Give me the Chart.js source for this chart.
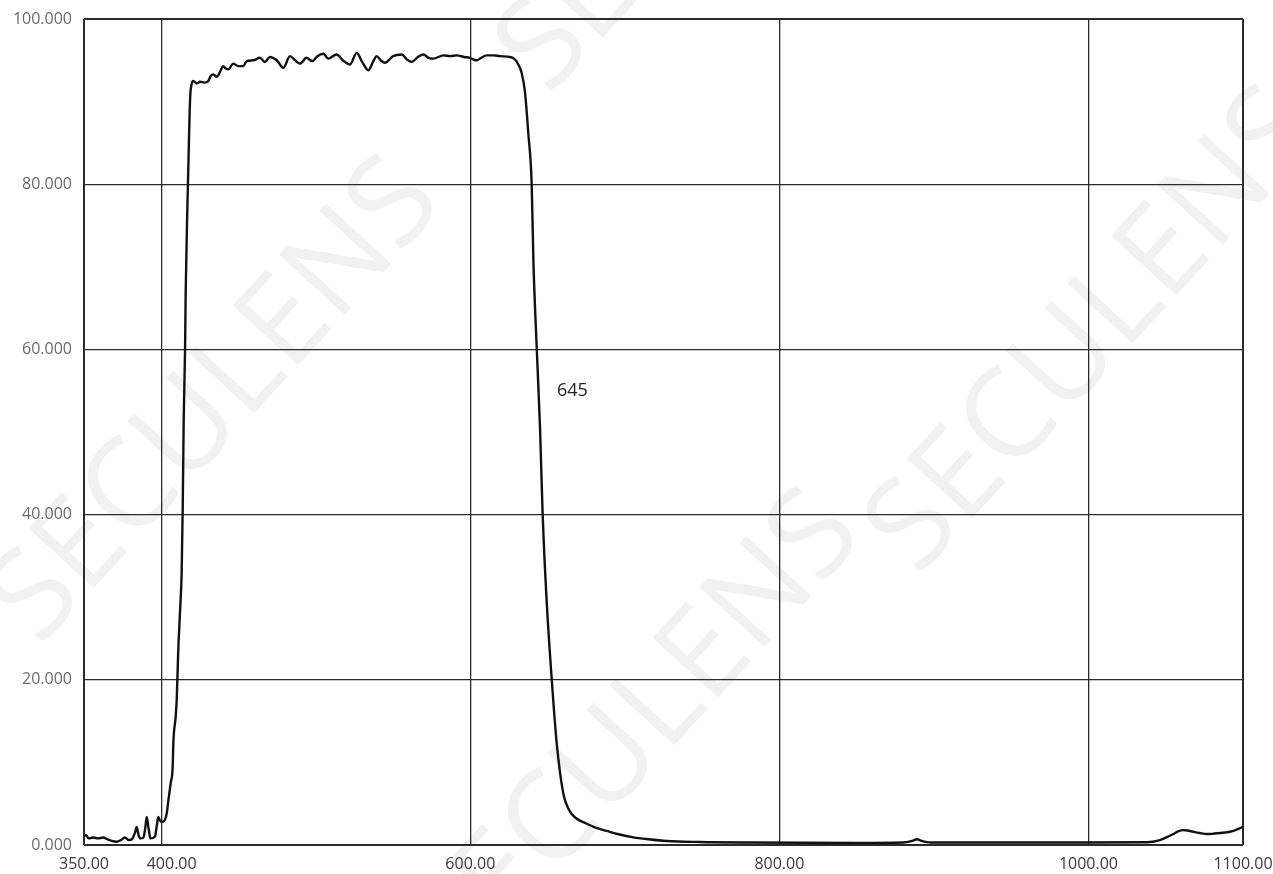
<!DOCTYPE html>
<html>
<head>
<meta charset="utf-8">
<title>Transmission curve</title>
<script src="https://cdn.jsdelivr.net/npm/chart.js@4.4.1/dist/chart.umd.min.js"></script>
<style>
  html, body { margin: 0; padding: 0; background: #fff; }
  #wrap { width: 1273px; height: 874px; }
</style>
</head>
<body>
<div id="wrap"><canvas id="chartCanvas" width="1273" height="874"></canvas></div>
<script>
// Transmittance (%) against wavelength (nm).
const wavelengths = [
  350, 351.3, 353, 356, 359, 362.5, 365, 368, 371, 374, 376.5, 379, 381, 383, 384.1, 385.3, 386.5, 388.4,
  389.6, 390.6, 391.8, 393, 395.9, 397, 398.1, 399, 400.3, 401.8, 403.5, 404.6, 406.1, 407.4, 407.8, 409.3,
  410, 411, 412.1, 413.2, 413.9, 414.5, 415.4, 415.8, 417, 418, 418.7, 419.5, 420.7, 423, 425.1, 428,
  430.4, 432, 433.7, 435.9, 438, 440.1, 441.8, 443.4, 446.6, 449.8, 453.1, 455.3, 459.6, 463.9, 467, 470.4,
  474.7, 479, 483.3, 486.6, 489.8, 494, 497.7, 501, 504.9, 508, 513.5, 517.5, 522.1, 526.5, 530, 534,
  537, 539.4, 542, 544.8, 550, 555.6, 559, 562.1, 566, 569.6, 573, 576, 582.5, 587, 591.2, 596, 599.8,
  602, 604.1, 607, 610.6, 615, 619.2, 625.7, 628.9, 631, 633.2, 635.4, 637.5, 639.7, 640.8,
  643, 645.1, 646.8, 649.4, 652.7, 655.9, 660.2, 664, 668, 675, 681, 688.3, 696,
  705.5, 715, 727.1, 748.7, 780, 850, 880, 886, 889, 892, 898, 950, 1000, 1037.7, 1046.3, 1050, 1054.9,
  1058, 1061.4, 1064, 1067.8, 1072, 1076.5, 1080, 1085.1, 1090, 1093.7, 1097, 1100
];
const transmittance = [
  1.1, 1.2, 0.8, 0.9, 0.8, 0.9, 0.7, 0.5, 0.4, 0.6, 0.9, 0.6, 0.7, 1.5, 2.2, 1.2, 0.8, 0.9,
  2.0, 3.4, 2.0, 0.8, 1.0, 2.2, 3.4, 3.0, 2.8, 2.9, 3.8, 5.4, 7.5, 9.5, 12.3, 15.5,
  17.6, 23.6, 28.1, 33, 41, 51.3, 60, 66.9, 78, 86, 90.5, 92.0, 92.5, 92.2, 92.4, 92.3,
  92.5, 93.1, 93.3, 93.0, 93.6, 94.3, 94.0, 93.9, 94.6, 94.3, 94.3, 94.9, 95.0, 95.3, 94.8, 95.4,
  95.0, 94.1, 95.5, 95.0, 94.6, 95.3, 94.9, 95.5, 95.8, 95.2, 95.7, 95.0, 94.5, 95.9, 94.8, 93.8,
  94.8, 95.5, 95.0, 94.7, 95.5, 95.7, 95.1, 94.8, 95.4, 95.7, 95.3, 95.2, 95.6, 95.5, 95.6, 95.4, 95.3,
  95.1, 95.0, 95.3, 95.6, 95.6, 95.5, 95.4, 95.1, 94.5, 93.5, 91.1, 86.2, 80, 70.8,
  60, 50.5, 40, 29.5, 20, 12.3, 6.2, 4.2, 3.3, 2.6, 2.1, 1.7, 1.3,
  0.93, 0.7, 0.48, 0.36, 0.3, 0.25, 0.3, 0.5, 0.7, 0.5, 0.3, 0.3, 0.3, 0.33, 0.6, 0.9, 1.33,
  1.65, 1.8, 1.75, 1.6, 1.45, 1.33, 1.35, 1.45, 1.55, 1.7, 1.95, 2.2
];
const xTicks = [350, 400, 600, 800, 1000, 1100];
const yTicks = [0, 20, 40, 60, 80, 100];
const cutoffLabel = { x: 666, y: 55, text: '645' };
const watermarkText = 'SECULENS';
// watermark centres as fractions of the canvas
const watermarkSpots = [[0.17, 0.46], [0.57, -0.17], [0.86, 0.38], [0.5, 0.84]];

const points = wavelengths.map((w, i) => ({ x: w, y: transmittance[i] }));

const watermarkPlugin = {
  id: 'watermark',
  beforeDraw(chart) {
    const { ctx, width, height } = chart;
    ctx.save();
    ctx.fillStyle = '#fff';
    ctx.fillRect(0, 0, width, height);
    ctx.fillStyle = '#f1f1f1';
    ctx.font = '400 124px "Open Sans", sans-serif';
    ctx.textAlign = 'center';
    ctx.textBaseline = 'middle';
    watermarkSpots.forEach(([fx, fy]) => {
      ctx.save();
      ctx.translate(fx * width, fy * height);
      ctx.rotate(-47.5 * Math.PI / 180);
      ctx.fillText(watermarkText, 0, 0);
      ctx.restore();
    });
    ctx.restore();
  }
};

const labelPlugin = {
  id: 'cutoffLabel',
  afterDatasetsDraw(chart) {
    const { ctx, scales } = chart;
    ctx.save();
    ctx.fillStyle = '#222';
    ctx.font = '18px "Open Sans", sans-serif';
    ctx.textAlign = 'center';
    ctx.textBaseline = 'middle';
    ctx.fillText(cutoffLabel.text, scales.x.getPixelForValue(cutoffLabel.x), scales.y.getPixelForValue(cutoffLabel.y));
    ctx.restore();
  }
};

const gridColor = '#2b2b2b';

new Chart(document.getElementById('chartCanvas').getContext('2d'), {
  type: 'line',
  data: {
    datasets: [{
      data: points,
      borderColor: '#111',
      borderWidth: 2.4,
      pointRadius: 0,
      cubicInterpolationMode: 'monotone',
      fill: false
    }]
  },
  options: {
    responsive: false,
    animation: false,
    devicePixelRatio: 1,
    layout: { padding: { top: 19, right: 30, left: 0, bottom: 0 } },
    plugins: { legend: { display: false }, tooltip: { enabled: false } },
    scales: {
      x: {
        type: 'linear',
        min: 350,
        max: 1100,
        afterBuildTicks: (scale) => { scale.ticks = xTicks.map(v => ({ value: v })); },
        afterFit: (scale) => {
          scale.height = 29;
          scale.paddingLeft = 0;
          scale.paddingRight = 0;
        },
        grid: {
          color: gridColor,
          lineWidth: (c) => (c.tick && (c.tick.value === 350 || c.tick.value === 1100) ? 2 : 1.3),
          drawTicks: false
        },
        border: { display: false },
        ticks: {
          autoSkip: false,
          maxRotation: 0,
          padding: 10,
          color: '#3a3a3a',
          font: { family: '"Open Sans", sans-serif', size: 16 },
          callback: (v) => (v === 400 ? '     ' + v.toFixed(2) : v.toFixed(2))
        }
      },
      y: {
        min: 0,
        max: 100,
        afterBuildTicks: (scale) => { scale.ticks = yTicks.map(v => ({ value: v })); },
        afterFit: (scale) => {
          scale.width = 84;
          scale.paddingTop = 0;
          scale.paddingBottom = 0;
        },
        grid: {
          color: gridColor,
          lineWidth: (c) => (c.tick && (c.tick.value === 0 || c.tick.value === 100) ? 2 : 1.3),
          drawTicks: false
        },
        border: { display: false },
        ticks: {
          padding: 12,
          color: '#6a6a6a',
          font: { family: '"Open Sans", sans-serif', size: 16 },
          callback: (v) => v.toFixed(3)
        }
      }
    }
  },
  plugins: [watermarkPlugin, labelPlugin]
});
</script>
</body>
</html>
